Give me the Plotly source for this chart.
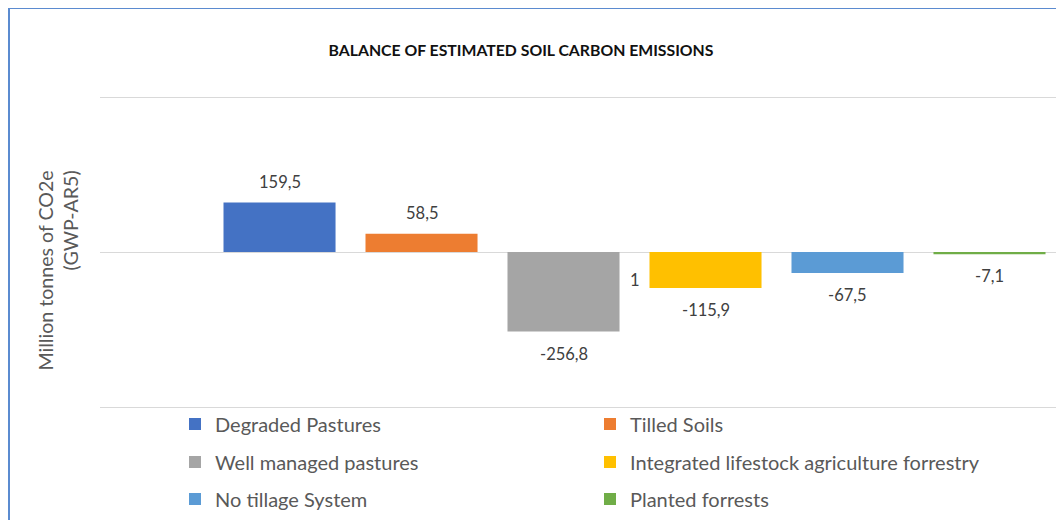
import plotly.graph_objects as go

categories = ["1"]
series_names = [
    "Degraded Pastures",
    "Tilled Soils",
    "Well managed pastures",
    "Integrated lifestock agriculture forrestry",
    "No tillage System",
    "Planted forrests",
]
series_values = [159.5, 58.5, -256.8, -115.9, -67.5, -7.1]
series_colors = ["#4472C4", "#ED7D31", "#A5A5A5", "#FFC000", "#5B9BD5", "#70AD47"]
y_ticks = [-500, 0, 500]

W, H = 1064, 520
ML, MR, MT, MB = 92, 0, 87, 119
pw, ph = W - ML - MR, H - MT - MB
Y_HALF = 500 + 2 / 0.31

FONT = "Lato"
TXT = "#404040"
LEG = "#595959"

def px2x(px):
    return (px - ML) / pw

def py2y(py):
    return (H - MB - py) / ph

legend_names = ["legend", "legend", "legend2", "legend2", "legend3", "legend3"]
BAR_PITCH = 142  # pixels between neighbouring bars of the group

fig = go.Figure()
for i, (name, val, col, lg) in enumerate(zip(series_names, series_values, series_colors, legend_names)):
    fig.add_trace(go.Bar(
        x=categories, y=[val], name=name, marker=dict(color=col, line=dict(width=0)),
        legend=lg, hoverinfo="name+y",
    ))
    fig.add_annotation(
        x=0, y=val, xshift=(i - (len(series_values) - 1) / 2) * BAR_PITCH,
        yshift=21 if val >= 0 else -22,
        text=f"{val:.1f}".replace(".", ","), showarrow=False,
        xanchor="center", yanchor="middle",
        font=dict(family=FONT, size=16.5, color=TXT),
    )

leg_common = dict(orientation="h", xref="container", yref="container",
                  xanchor="left", yanchor="middle", x=167 / W,
                  entrywidth=370, entrywidthmode="pixels",
                  font=dict(family=FONT, size=20, color=LEG),
                  bgcolor="rgba(0,0,0,0)", itemclick=False)

fig.update_layout(
    width=W, height=H,
    margin=dict(l=ML, r=MR, t=MT, b=MB, autoexpand=False),
    paper_bgcolor="white", plot_bgcolor="white",
    barmode="group", bargap=0.2, bargroupgap=0.211,
    title=dict(text="<b>BALANCE OF ESTIMATED SOIL CARBON EMISSIONS</b>",
               xref="container", yref="container", x=513 / W, y=1 - 42 / H,
               xanchor="center", yanchor="middle",
               font=dict(family=FONT, size=15.8, color="#111111")),
    xaxis=dict(type="category", range=[-0.5019, 0.4108], showticklabels=False,
               showgrid=False, zeroline=False, showline=False, ticks=""),
    yaxis=dict(range=[-Y_HALF, Y_HALF], tickvals=y_ticks, showticklabels=False,
               showgrid=True, gridcolor="#D9D9D9", gridwidth=1,
               zeroline=True, zerolinecolor="#D9D9D9", zerolinewidth=1,
               showline=False, ticks=""),
    legend=dict(**leg_common, y=1 - 416 / H),
    legend2=dict(**leg_common, y=1 - 454 / H),
    legend3=dict(**leg_common, y=1 - 491 / H),
    showlegend=True,
)

# category label shown next to the zero line
fig.add_annotation(x=0, y=0, yshift=-28, text=categories[0], showarrow=False,
                   xanchor="center", yanchor="middle",
                   font=dict(family=FONT, size=16.5, color=TXT))

# axis title
fig.add_annotation(xref="paper", yref="paper", x=px2x(49.5), y=py2y(263),
                   text="Million tonnes of CO2e<br>(GWP-AR5)", textangle=-90,
                   align="right", showarrow=False, xanchor="center", yanchor="middle",
                   font=dict(family=FONT, size=19.6, color=LEG))

# chart border
fig.add_shape(type="rect", xref="paper", yref="paper",
              x0=px2x(1), x1=px2x(1200), y0=py2y(600), y1=py2y(0),
              line=dict(color="#5B8BD0", width=2), fillcolor="rgba(0,0,0,0)", layer="above")

fig.write_html("out.html")
